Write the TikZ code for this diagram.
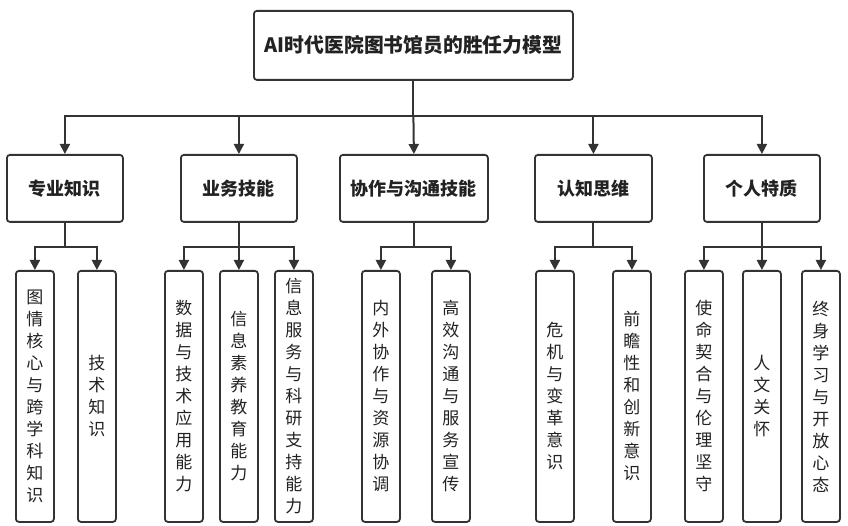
\documentclass[tikz,border=0pt]{standalone}
\usepackage{fontspec}
\setmainfont{Noto Sans CJK SC}
\usetikzlibrary{arrows.meta}
\definecolor{lncol}{HTML}{333333}
\definecolor{tx}{HTML}{222222}
\tikzset{
  box/.style={draw=lncol, line width=1.8pt, rounded corners=3pt, fill=white, inner sep=0pt, anchor=north west},
  topbox/.style={box, font=\fontsize{19.8}{22}\selectfont\bfseries, text=tx},
  midbox/.style={box, font=\fontsize{18}{20}\selectfont\bfseries, text=tx},
  leafbox/.style={box, font=\fontsize{17}{22}\selectfont, text=tx, align=center},
  wire/.style={draw=lncol, line width=2pt},
  arr/.style={wire, -{Triangle[length=10pt,width=10pt]}},
}
\newcommand{\mybox}[7]{% name, style, x1, y1, x2, y2, text
  \node[#2, minimum width=#5pt-#3pt, minimum height=#6pt-#4pt] (#1) at (#3,#4) {#7};}
\begin{document}
\begin{tikzpicture}[x=1pt,y=-1pt]
\useasboundingbox (0,0) rectangle (848,526);
\fill[white] (0,0) rectangle (848,526);
% top
\mybox{top}{topbox}{253}{10}{572}{79}{AI时代医院图书馆员的胜任力模型}
% level 2
\mybox{k1}{midbox}{6}{154}{122}{221}{专业知识}
\mybox{k2}{midbox}{180}{154}{296}{221}{业务技能}
\mybox{k3}{midbox}{339}{154}{487}{221}{协作与沟通技能}
\mybox{k4}{midbox}{534}{154}{651}{221}{认知思维}
\mybox{k5}{midbox}{703}{154}{819}{221}{个人特质}
% leaves
\mybox{l11}{leafbox}{15}{270}{53}{521}{图\\情\\核\\心\\与\\跨\\学\\科\\知\\识}
\mybox{l12}{leafbox}{77}{270}{115}{521}{技\\术\\知\\识}
\mybox{l21}{leafbox}{164}{270}{202}{521}{数\\据\\与\\技\\术\\应\\用\\能\\力}
\mybox{l22}{leafbox}{219}{270}{257}{521}{信\\息\\素\\养\\教\\育\\能\\力}
\mybox{l23}{leafbox}{274}{270}{312}{521}{信\\息\\服\\务\\与\\科\\研\\支\\持\\能\\力}
\mybox{l31}{leafbox}{361}{270}{399}{521}{内\\外\\协\\作\\与\\资\\源\\协\\调}
\mybox{l32}{leafbox}{431}{270}{469}{521}{高\\效\\沟\\通\\与\\服\\务\\宣\\传}
\mybox{l41}{leafbox}{535}{270}{573}{521}{危\\机\\与\\变\\革\\意\\识}
\mybox{l42}{leafbox}{612}{270}{650}{521}{前\\瞻\\性\\和\\创\\新\\意\\识}
\mybox{l51}{leafbox}{684}{270}{722}{521}{使\\命\\契\\合\\与\\伦\\理\\坚\\守}
\mybox{l52}{leafbox}{742}{270}{780}{521}{人\\文\\关\\怀}
\mybox{l53}{leafbox}{801}{270}{839}{521}{终\\身\\学\\习\\与\\开\\放\\心\\态}
% connectors top -> level 2
\coordinate (bus) at ([yshift=-35pt]top.south);
\draw[wire] (top.south) -- (bus);
\foreach \k in {k1,k2,k4,k5} \draw[arr] (bus) -| (\k.north);
\draw[arr] (bus) -- (k3.north);
% level 2 -> leaves
\foreach \k/\a/\b in {k1/l11/l12, k3/l31/l32, k4/l41/l42} {
  \coordinate (s\k) at ([yshift=-24pt]\k.south);
  \draw[wire] (\k.south) -- (s\k);
  \draw[arr] (s\k) -| (\a.north);
  \draw[arr] (s\k) -| (\b.north);
}
\foreach \k/\a/\b/\c in {k2/l21/l22/l23, k5/l51/l52/l53} {
  \coordinate (s\k) at ([yshift=-24pt]\k.south);
  \draw[wire] (\k.south) -- (s\k);
  \draw[arr] (s\k) -| (\a.north);
  \draw[arr] (s\k) -- (\b.north);
  \draw[arr] (s\k) -| (\c.north);
}
\end{tikzpicture}
\end{document}
